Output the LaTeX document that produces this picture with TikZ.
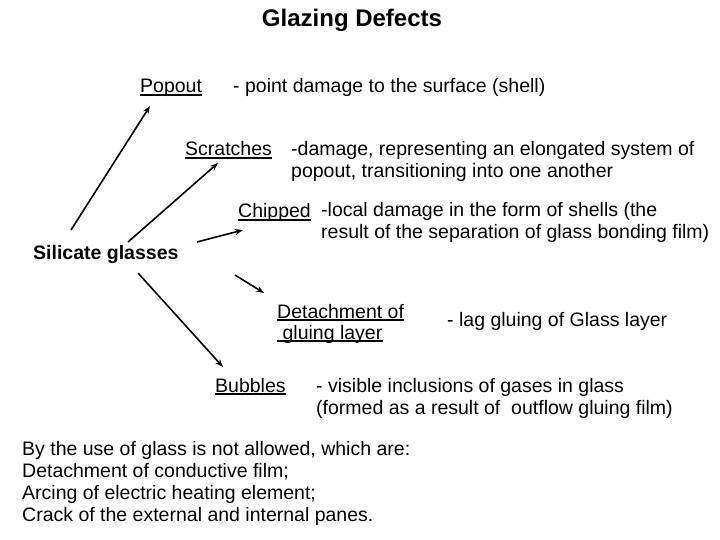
\documentclass[tikz,border=0pt]{standalone}
\usepackage{fontspec}
\setmainfont{Liberation Sans}
\usetikzlibrary{arrows.meta}

\tikzset{
  txt/.style={anchor=base west, inner sep=0pt, font=\fontsize{19.5}{22}\selectfont},
  ul/.style={line width=1.1pt},
  arr/.style={line width=1.6pt, -{Stealth[length=8pt,width=6pt]}}
}

\begin{document}
\begin{tikzpicture}[x=1pt,y=-1pt]
        \useasboundingbox (0,0) rectangle (720,540);

        % Title
        \node[anchor=base, inner sep=0pt, font=\fontsize{24}{28}\selectfont\bfseries] (title) at (352,27) {Glazing Defects};

        % Root
        \node[txt, font=\fontsize{19.5}{22}\selectfont\bfseries] (silicate) at (33,259) {Silicate glasses};

        % Defect types
        \node[txt] (popout) at (140,93) {Popout};
        \node[txt] (scratches) at (185,156) {Scratches};
        \node[txt] (chipped) at (238,218) {Chipped};
        \node[txt] (detacha) at (277,318) {Detachment of};
        \node[txt] (detachb) at (277,339) {\ gluing layer};
        \node[txt] (bubbles) at (215,392) {Bubbles};

        % Underlines of the defect names
        \foreach \n in {popout,scratches,chipped,detacha,detachb,bubbles}
            \draw[ul] ([yshift=-2pt]\n.base west) -- ([yshift=-2pt]\n.base east);

        % Descriptions
        \node[txt] (popdesc) at (233,93) {- point damage to the surface (shell)};
        \node[txt] (scrdesca) at (291,156) {-damage, representing an elongated system of};
        \node[txt] (scrdescb) at (291,178) {popout, transitioning into one another};
        \node[txt] (chipdesca) at (321,217) {-local damage in the form of shells (the};
        \node[txt] (chipdescb) at (321,239) {result of the separation of glass bonding film)};
        \node[txt] (detdesc) at (447,326) {- lag gluing of Glass layer};
        \node[txt] (bubdesca) at (316,392) {- visible inclusions of gases in glass};
        \node[txt] (bubdescb) at (316,414) {(formed as a result of\ \ outflow gluing film)};

        % Not allowed list
        \foreach \line [count=\i] in {{By the use of glass is not allowed, which are:},
                                      {Detachment of conductive film;},
                                      {Arcing of electric heating element;},
                                      {Crack of the external and internal panes.}}
            \node[txt] (rule\i) at (22,{455+22*(\i-1)}) {\line};

        % Arrow ends
        \coordinate (popT) at (71,230);
        \coordinate (popH) at (150,106);
        \coordinate (scrT) at (128,242);
        \coordinate (scrH) at (218,163);
        \coordinate (chipT) at (197,242);
        \coordinate (chipH) at (243,230);
        \coordinate (detT) at (235,275);
        \coordinate (detH) at (264,293);
        \coordinate (bubT) at (138,273);
        \coordinate (bubH) at (223,367);

        % Arrows
        \draw[arr] (popT) -- (popH);
        \draw[arr] (scrT) -- (scrH);
        \draw[arr] (chipT) -- (chipH);
        \draw[arr] (detT) -- (detH);
        \draw[arr] (bubT) -- (bubH);
\end{tikzpicture}
\end{document}
